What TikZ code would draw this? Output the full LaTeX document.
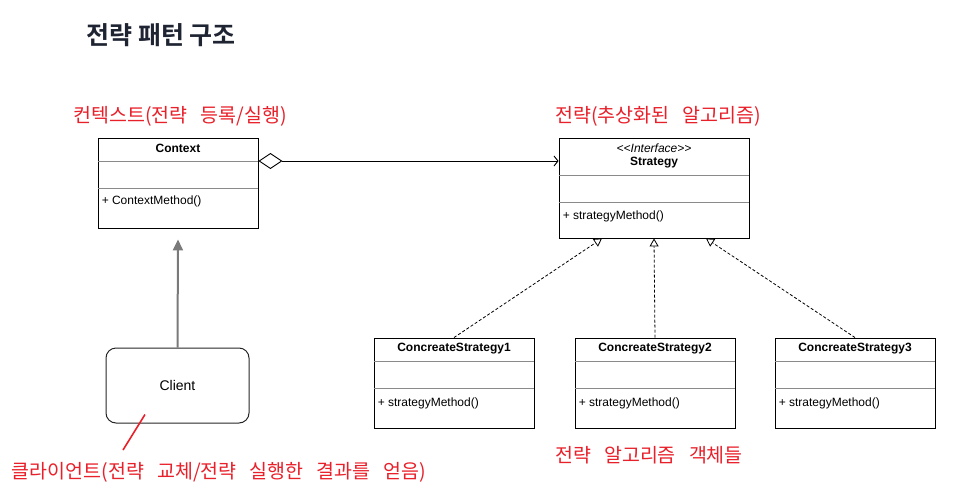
\documentclass[tikz,border=0pt]{standalone}
\usepackage{fontspec}
\setmainfont{Liberation Sans}
\newfontfamily\kr[BoldFont={* Bold}]{Noto Sans CJK KR}
\newfontfamily\hand[WordSpace=3]{Noto Sans CJK KR}
\usetikzlibrary{arrows.meta,positioning}

\definecolor{titlecol}{HTML}{1F2433}
\definecolor{pen}{HTML}{E8202A}
\definecolor{rulecol}{HTML}{8A8A8A}
\definecolor{usecol}{HTML}{7A7A7A}

\tikzset{
  umlbox/.style={draw, line width=0.9pt, fill=white, inner sep=0pt},
  divider/.style={draw=rulecol, line width=0.8pt},
  umlname/.style={font=\fontsize{12}{14}\selectfont\bfseries},
  umlop/.style={font=\fontsize{12}{14}\selectfont, anchor=west, inner sep=0pt},
  note/.style={text=pen, font=\hand\fontsize{19.5}{22}\selectfont},
  realize/.style={densely dashed, line width=0.8pt, -{Triangle[open,length=8pt,width=9pt]}},
}

\begin{document}
\begin{tikzpicture}[x=1pt,y=-1pt]
    \useasboundingbox (0,0) rectangle (957,503);

    % Title
    \node[font=\kr\bfseries\fontsize{25}{28}\selectfont, text=titlecol] (title) at (161,35) {전략 패턴 구조};

    % Context
    \node[umlbox, minimum width=160pt, minimum height=90pt] (context) at (178,183) {};
    \draw[divider] ([yshift=-24pt]context.north west) -- ([yshift=-24pt]context.north east);
    \draw[divider] ([yshift=-51pt]context.north west) -- ([yshift=-51pt]context.north east);
    \node[umlname] (contextname) at ([yshift=-11pt]context.north) {Context};
    \node[umlop] (contextop) at ([xshift=4pt,yshift=-64pt]context.north west) {+ ContextMethod()};

    % Strategy
    \node[umlbox, minimum width=190pt, minimum height=100pt] (strategy) at (654,188) {};
    \draw[divider] ([yshift=-38pt]strategy.north west) -- ([yshift=-38pt]strategy.north east);
    \draw[divider] ([yshift=-65pt]strategy.north west) -- ([yshift=-65pt]strategy.north east);
    \node[font=\fontsize{12}{14}\selectfont\itshape] (stereo) at ([yshift=-11pt]strategy.north) {<\kern0pt<Interface>\kern0pt>};
    \node[umlname] (strategyname) at ([yshift=-25pt]strategy.north) {Strategy};
    \node[umlop] (strategyop) at ([xshift=4pt,yshift=-79pt]strategy.north west) {+ strategyMethod()};

    % Concrete strategies
    \foreach \i/\x/\dx in {1/454/-52,2/655/0,3/855/52} {
        \node[umlbox, minimum width=160pt, minimum height=90pt] (cs\i) at (\x,383) {};
        \draw[divider] ([yshift=-24pt]cs\i.north west) -- ([yshift=-24pt]cs\i.north east);
        \draw[divider] ([yshift=-51pt]cs\i.north west) -- ([yshift=-51pt]cs\i.north east);
        \node[umlname] (csname\i) at ([yshift=-11pt]cs\i.north) {ConcreateStrategy\i};
        \node[umlop] (csop\i) at ([xshift=4pt,yshift=-66pt]cs\i.north west) {+ strategyMethod()};
        \draw[realize] (cs\i.north) -- ([xshift=\dx pt]strategy.south);
    }

    % Client
    \node[draw=black!85, line width=1pt, rounded corners=10pt, minimum width=143pt, minimum height=75pt,
          font=\fontsize{14}{16}\selectfont] (client) at (177.5,385.5) {Client};

    % Connectors
    \draw[line width=0.9pt, {Diamond[open,length=24pt,width=16pt]}-{Straight Barb[length=4pt,width=10pt]}]
        ([yshift=22pt]context.east) -- ([yshift=22pt]context.east -| strategy.west);
    \draw[usecol, line width=2pt, -{Triangle[length=11pt,width=10pt]}]
        (client.north) -- ([yshift=-11pt]context.south);

    % Notes
    \node[note] (contextnote) at (180,116) {컨텍스트(전략 등록/실행)};
    \node[note] (strategynote) at (658,116) {전략(추상화된 알고리즘)};
    \node[note] (clientnote) at (219,472) {클라이언트(전략 교체/전략 실행한 결과를 얻음)};
    \node[note] (csnote) at (649,455) {전략 알고리즘 객체들};
    \coordinate (scribble) at (123,450);
    \draw[pen, line width=1.6pt] ([xshift=-32.5pt,yshift=9pt]client.south) -- (scribble);
\end{tikzpicture}
\end{document}
